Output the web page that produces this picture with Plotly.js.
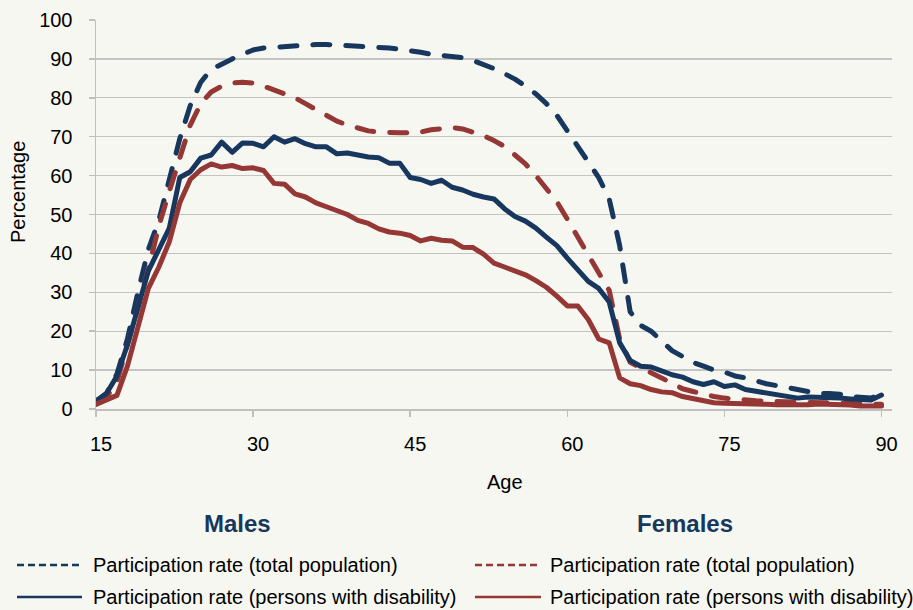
<!DOCTYPE html>
<html>
<head>
<meta charset="utf-8">
<script src="https://cdn.plot.ly/plotly-3.0.1.min.js"></script>
<style>
  html, body { margin: 0; padding: 0; background: #F6F7F0; }
  #chart { width: 913px; height: 610px; }
  .scatterlayer .js-line { stroke-linecap: round; stroke-linejoin: round; }
</style>
</head>
<body>
<div id="chart"></div>
<script>
// ---- Data ----
const ages = [];
for (let a = 15; a <= 90; a++) ages.push(a);

const maleTotal = [
  2, 4, 9, 18, 30, 41, 48.5, 59, 69.5, 78,
  84, 87.3, 88.8, 90, 91.2, 92.3, 92.8, 93, 93.2, 93.5,
  93.7, 93.7, 93.7, 93.6, 93.5, 93.3, 93.1, 93, 92.8, 92.5,
  92.2, 91.7, 91.2, 91, 90.8, 90.3, 89.6, 88.6, 87.5, 86.2,
  84.8, 83, 81, 78.5, 75.5, 71.5, 67.5, 63.5, 59.5, 54,
  42, 25, 21.5, 20, 17.5, 15, 13.5, 12, 11, 10,
  9.5, 8.5, 8, 7.2, 6.5, 6, 5.5, 5.3, 4.5, 4,
  4, 3.8, 3.2, 3, 2.8, 4
];
const femaleTotal = [
  1.5, 3, 7, 16, 26, 36, 47, 56, 64, 73,
  78.5, 81.5, 83, 83.8, 84, 83.8, 83, 82, 81, 80,
  78.5, 77, 75.3, 74, 73, 72.3, 71.5, 71.2, 71, 71,
  71, 71.2, 71.8, 72.2, 72.3, 72, 71.2, 70.3, 69, 67.5,
  65.3, 63, 60, 56.8, 53.3, 48.8, 44, 39.5, 35, 30.5,
  18, 12, 10.5, 9.3, 8, 6.5, 5.2, 4.5, 3.8, 3.2,
  2.8, 2.5, 2.3, 2.1, 2, 1.9, 1.8, 1.8, 1.7, 1.6,
  1.5, 1.5, 1.4, 1.3, 1.2, 1.2
];
const maleDisability = [
  2, 4, 8.5, 16.5, 26, 35.5, 41, 46.5, 59.5, 61,
  64.5, 65.3, 68.6, 66, 68.4, 68.3, 67.4, 70, 68.6, 69.5,
  68.2, 67.4, 67.4, 65.6, 65.8, 65.2, 64.8, 64.6, 63.2, 63.2,
  59.5, 59, 58, 58.8, 57, 56.3, 55.2, 54.5, 54, 51.5,
  49.5, 48.3, 46.5, 44.2, 42, 38.8, 35.7, 32.8, 31, 27.5,
  17, 12.5, 11, 10.8, 9.8, 8.8, 8.2, 7, 6.3, 7,
  5.8, 6.2, 5, 4.5, 4, 3.6, 3.2, 2.8, 3.1, 3.1,
  3, 2.8, 2.6, 2.5, 2.3, 3.6
];
const femaleDisability = [
  1.2, 2.2, 3.5, 11, 21, 31, 36.5, 43, 53, 59,
  61.5, 63, 62.2, 62.6, 61.8, 62, 61.3, 58, 57.8, 55.3,
  54.5, 53, 52, 51, 50, 48.5, 47.7, 46.3, 45.5, 45.2,
  44.6, 43.2, 43.9, 43.4, 43.2, 41.6, 41.5, 39.8, 37.5, 36.5,
  35.5, 34.5, 33, 31.3, 29, 26.5, 26.5, 23, 18, 17,
  8, 6.5, 6, 5, 4.4, 4.2, 3.2, 2.6, 2, 1.6,
  1.5, 1.5, 1.5, 1.3, 1.2, 1.1, 1, 1, 1.1, 1.3,
  1.3, 1.2, 1, 0.8, 0.8, 0.8
];

const xTicks = [15, 30, 45, 60, 75, 90];
const groupTitles = ['Males', 'Females'];
const seriesLabels = ['Participation rate (total population)', 'Participation rate (persons with disability)'];
const axisTitles = { x: 'Age', y: 'Percentage' };

// ---- Styles ----
const NAVY = '#17375E';
const RED = '#953735';
const BG = '#F6F7F0';
const GRID = '#C4C4C4';
const FONT = 'Liberation Sans, Arial, sans-serif';
const PLOT_DASH = '17px,16px';
const LW = 5;

const traces = [
  { x: ages, y: maleTotal, name: 'Males – ' + seriesLabels[0], mode: 'lines',
    line: { color: NAVY, width: LW, dash: PLOT_DASH } },
  { x: ages, y: femaleTotal, name: 'Females – ' + seriesLabels[0], mode: 'lines',
    line: { color: RED, width: LW, dash: PLOT_DASH } },
  { x: ages, y: maleDisability, name: 'Males – ' + seriesLabels[1], mode: 'lines',
    line: { color: NAVY, width: LW } },
  { x: ages, y: femaleDisability, name: 'Females – ' + seriesLabels[1], mode: 'lines',
    line: { color: RED, width: LW } }
];

// Pixel-to-paper helpers for the hand-built legend and titles
const L = 96, R = 21, T = 20, B = 201, W = 913, H = 610;
const pw = W - L - R, ph = H - T - B;
const px = v => (v - L) / pw;
const py = v => (H - B - v) / ph;

const legendCols = [
  { title: groupTitles[0], color: NAVY, titleX: 237, lineX0: 17, lineX1: 82, textX: 91 },
  { title: groupTitles[1], color: RED, titleX: 685, lineX0: 475, lineX1: 541, textX: 548 }
];
const rowY = [565, 597];

const annotations = [];
const shapes = [];
legendCols.forEach(c => {
  annotations.push({
    xref: 'paper', yref: 'paper', x: px(c.titleX), y: py(523),
    xanchor: 'center', yanchor: 'middle', showarrow: false,
    text: '<b>' + c.title + '</b>',
    font: { family: FONT, size: 24, color: NAVY }
  });
  seriesLabels.forEach((lab, i) => {
    annotations.push({
      xref: 'paper', yref: 'paper', x: px(c.textX), y: py(rowY[i]),
      xanchor: 'left', yanchor: 'middle', showarrow: false,
      text: lab, font: { family: FONT, size: 20, color: '#000000' }
    });
    shapes.push({
      type: 'line', xref: 'paper', yref: 'paper',
      x0: px(c.lineX0), x1: px(c.lineX1), y0: py(rowY[i]), y1: py(rowY[i]),
      line: { color: c.color, width: 2.5, dash: i === 0 ? '7px,4px' : 'solid' }
    });
  });
});
// Axis titles placed where the reference shows them
annotations.push({
  xref: 'paper', yref: 'paper', x: px(505), y: py(482),
  xanchor: 'center', yanchor: 'middle', showarrow: false,
  text: axisTitles.x, font: { family: FONT, size: 20, color: '#000000' }
});
annotations.push({
  xref: 'paper', yref: 'paper', x: px(18), y: py(192),
  xanchor: 'center', yanchor: 'middle', showarrow: false, textangle: -90,
  text: axisTitles.y, font: { family: FONT, size: 20, color: '#000000' }
});

const layout = {
  width: W, height: H,
  paper_bgcolor: BG, plot_bgcolor: BG,
  margin: { l: L, r: R, t: T, b: B, pad: 0 },
  showlegend: false,
  font: { family: FONT, size: 20, color: '#000000' },
  xaxis: {
    range: [15, 91], tickvals: xTicks, ticktext: xTicks.map(String),
    showgrid: false, zeroline: false,
    showline: true, linecolor: '#BFBFBF', linewidth: 1.5,
    ticks: 'outside', ticklen: 6, tickwidth: 1.5, tickcolor: '#BFBFBF',
    ticklabelstandoff: 10, ticklabelshift: 5,
    tickfont: { family: FONT, size: 20, color: '#000000' }
  },
  yaxis: {
    range: [0, 100], dtick: 10, tick0: 0,
    showgrid: true, gridcolor: GRID, gridwidth: 1.3, zeroline: false,
    showline: true, linecolor: '#BFBFBF', linewidth: 1.5,
    ticks: 'outside', ticklen: 6, tickwidth: 1.5, tickcolor: '#BFBFBF',
    ticklabelstandoff: 12,
    tickfont: { family: FONT, size: 20, color: '#000000' }
  },
  annotations: annotations,
  shapes: shapes
};

Plotly.newPlot('chart', traces, layout, { displayModeBar: false, staticPlot: true });
</script>
</body>
</html>
